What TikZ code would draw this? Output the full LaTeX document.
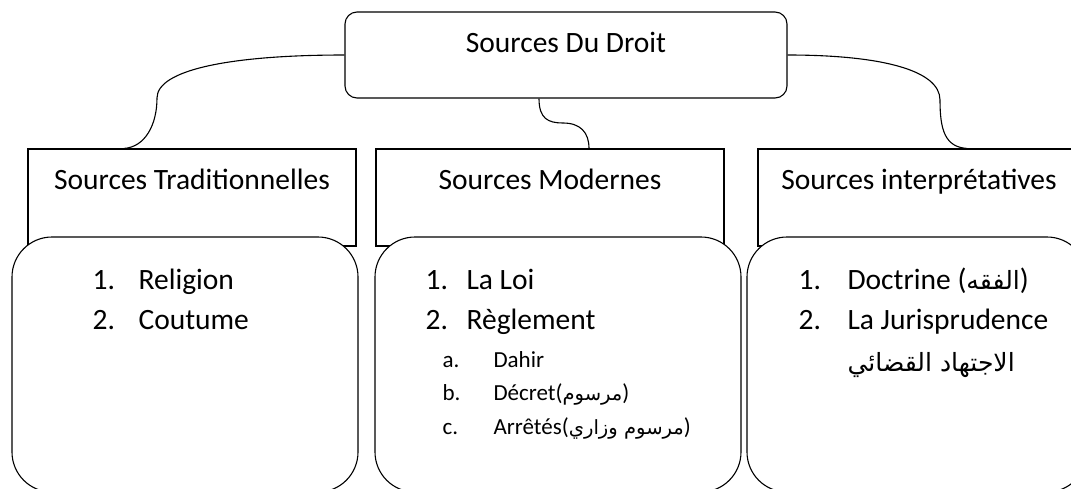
\documentclass[tikz,border=0pt]{standalone}
\usepackage{fontspec}
\setmainfont{Carlito}
\newfontfamily\arabicfont[Script=Arabic,Scale=0.85]{DejaVu Sans}
\TeXXeTstate=1
\usetikzlibrary{positioning}

\begin{document}
\begin{tikzpicture}[x=1pt,y=-1pt,line width=1.1pt,
  mainbox/.style={draw,rounded corners=12pt,inner sep=0pt,minimum width=442pt,text height=40pt,text depth=46pt,font=\fontsize{29.5}{35}\selectfont},
  headbox/.style={draw,inner sep=0pt,text height=40pt,text depth=57pt,font=\fontsize{29.5}{35}\selectfont},
  listbox/.style={draw,fill=white,rounded corners=40pt,minimum height=255pt},
  item/.style={anchor=base west,inner sep=0pt,font=\fontsize{29.5}{35}\selectfont},
  subitem/.style={anchor=base west,inner sep=0pt,font=\fontsize{23}{28}\selectfont}]
\useasboundingbox (0,0) rectangle (1071,488);
\clip (0,0) rectangle (1071,488);

\node[mainbox] (droit) at (566,55) {Sources Du Droit};

\node[headbox,minimum width=328pt] (trad) at (192,197.5) {Sources Traditionnelles};
\node[headbox,minimum width=348pt] (mod) at (550,197.5) {Sources Modernes};
\node[headbox,minimum width=322pt] (interp) at (919,197.5) {Sources interprétatives};

% curved connectors
\draw (droit.west) .. controls +(-115,0) and (157,70) .. (157,98) .. controls (157,125) and (145,147) .. ([xshift=-68pt]trad.north);
\draw ([xshift=-27pt]droit.south) .. controls +(0,20) and (548,123) .. (563,123) .. controls (580,123) and (589,132) .. ([xshift=39pt]mod.north);
\draw (droit.east) .. controls +(93,0) and (940,70) .. (940,100) .. controls (940,130) and (945,147) .. ([xshift=48pt]interp.north);

\node[listbox,minimum width=346pt] (tradlist) at (185,364.5) {};
\node[listbox,minimum width=366pt] (modlist) at (558,364.5) {};
\node[listbox,minimum width=340pt] (interplist) at (917,364.5) {};

% traditionnelles
\node[item] (n1) at (92,289) {1.};
\node[item] (religion) at (138,289) {Religion};
\node[item] (n2) at (92,329) {2.};
\node[item] (coutume) at (138,329) {Coutume};

% modernes
\node[item] (m1) at (425,289) {1.};
\node[item] (loi) at (466,289) {La Loi};
\node[item] (m2) at (425,329) {2.};
\node[item] (reglement) at (466,329) {Règlement};
\node[subitem] (ma) at (442,367) {a.};
\node[subitem] (dahir) at (493,367) {Dahir};
\node[subitem] (mb) at (442,400) {b.};
\node[subitem] (decret) at (493,400) {Décret({\arabicfont\beginR مرسوم\endR})};
\node[subitem] (mc) at (442,434) {c.};
\node[subitem] (arretes) at (493,434) {Arrêtés({\arabicfont\beginR مرسوم وزاري\endR})};

% interpretatives
\node[item] (i1) at (798,289) {1.};
\node[item] (doctrine) at (847,289) {Doctrine ({\arabicfont\beginR الفقه\endR})};
\node[item] (i2) at (798,329) {2.};
\node[item] (juris) at (847,329) {La Jurisprudence};
\node[item] (ijtihad) at (847,371) {\arabicfont\beginR الاجتهاد القضائي\endR};

\end{tikzpicture}
\end{document}
